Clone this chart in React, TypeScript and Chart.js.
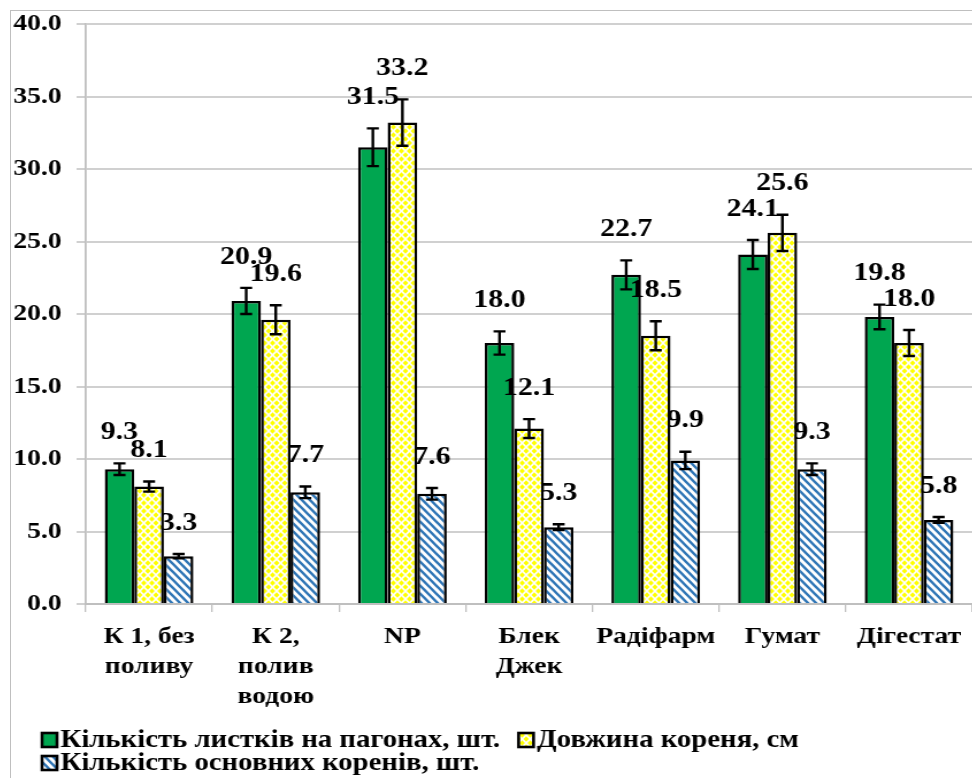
import React, { useEffect, useRef } from "react";
import { Chart, registerables } from "chart.js";
Chart.register(...registerables);

const categories: (string | string[])[] = [
  ["К 1, без", "поливу"],
  ["К 2,", "полив", "водою"],
  "NP",
  ["Блек", "Джек"],
  "Радіфарм",
  "Гумат",
  "Дігестат",
];
const seriesNames = [
  "Кількість листків на пагонах, шт.",
  "Довжина кореня, см",
  "Кількість основних коренів, шт.",
];
const leavesCount = [9.3, 20.9, 31.5, 18.0, 22.7, 24.1, 19.8];
const rootLength = [8.1, 19.6, 33.2, 12.1, 18.5, 25.6, 18.0];
const mainRoots = [3.3, 7.7, 7.6, 5.3, 9.9, 9.3, 5.8];
const leavesErr = [0.4, 0.9, 1.3, 0.8, 1.0, 1.0, 0.85];
const rootLengthErr = [0.35, 1.0, 1.6, 0.65, 1.0, 1.25, 0.9];
const mainRootsErr = [0.15, 0.4, 0.4, 0.2, 0.6, 0.4, 0.2];
const yMin = 0;
const yMax = 40;
const yStep = 5;

const FONT = "'Liberation Serif', 'Times New Roman', serif";
const STRETCH = 1.15; // the reference text/graphics are horizontally widened
const CANVAS_W = 836;
const CANVAS_H = 767;

function makeDiamonds(): CanvasPattern | string {
  const c = document.createElement("canvas");
  c.width = 7;
  c.height = 8;
  const g = c.getContext("2d");
  if (!g) return "#ffff00";
  g.fillStyle = "#ffffff";
  g.fillRect(0, 0, 7, 8);
  g.fillStyle = "#ffff00";
  const dia = (cx: number, cy: number, rx: number, ry: number) => {
    g.beginPath();
    g.moveTo(cx, cy - ry);
    g.lineTo(cx + rx, cy);
    g.lineTo(cx, cy + ry);
    g.lineTo(cx - rx, cy);
    g.closePath();
    g.fill();
  };
  const rx = 2.4;
  const ry = 2.8;
  dia(3.5, 4, rx, ry);
  dia(0, 0, rx, ry);
  dia(7, 0, rx, ry);
  dia(0, 8, rx, ry);
  dia(7, 8, rx, ry);
  const p = g.createPattern(c, "repeat");
  return p || "#ffff00";
}

function makeStripes(): CanvasPattern | string {
  const c = document.createElement("canvas");
  c.width = 7;
  c.height = 8;
  const g = c.getContext("2d");
  if (!g) return "#2e75b6";
  g.fillStyle = "#ffffff";
  g.fillRect(0, 0, 7, 8);
  g.strokeStyle = "#2e75b6";
  g.lineWidth = 2.4;
  g.beginPath();
  g.moveTo(-3.5, -4);
  g.lineTo(10.5, 12);
  g.moveTo(-3.5, 4);
  g.lineTo(3.5, 12);
  g.moveTo(3.5, -4);
  g.lineTo(10.5, 4);
  g.stroke();
  const p = g.createPattern(c, "repeat");
  return p || "#2e75b6";
}

export default function App() {
  const ref = useRef<HTMLCanvasElement | null>(null);

  useEffect(() => {
    if (!ref.current) return;
    const fills = ["#00a650", makeDiamonds(), makeStripes()];
    const values = [leavesCount, rootLength, mainRoots];
    const errors = [leavesErr, rootLengthErr, mainRootsErr];

    const errorBars = {
      id: "errorBarsAndLabels",
      afterDatasetsDraw(chart: any) {
        const ctx = chart.ctx;
        const y = chart.scales.y;
        ctx.save();
        chart.data.datasets.forEach((ds: any, di: number) => {
          const meta = chart.getDatasetMeta(di);
          meta.data.forEach((bar: any, i: number) => {
            const v = values[di][i];
            const e = errors[di][i];
            const top = y.getPixelForValue(v + e);
            const bot = y.getPixelForValue(v - e);
            ctx.strokeStyle = "#000";
            ctx.lineWidth = 2.4;
            ctx.beginPath();
            ctx.moveTo(bar.x, top);
            ctx.lineTo(bar.x, bot);
            ctx.moveTo(bar.x - 5.2, top);
            ctx.lineTo(bar.x + 5.2, top);
            ctx.moveTo(bar.x - 5.2, bot);
            ctx.lineTo(bar.x + 5.2, bot);
            ctx.stroke();
            ctx.fillStyle = "#000";
            ctx.font = `bold 26px ${FONT}`;
            ctx.textAlign = "center";
            ctx.textBaseline = "middle";
            ctx.fillText(v.toFixed(1), bar.x, top - 31);
          });
        });
        ctx.restore();
      },
    };

    const legendPlugin = {
      id: "customLegend",
      afterDraw(chart: any) {
        const ctx = chart.ctx;
        ctx.save();
        ctx.font = `bold 25px ${FONT}`;
        ctx.textBaseline = "middle";
        ctx.textAlign = "left";
        const rows = [
          { y: 729, items: [0, 1] },
          { y: 752, items: [2] },
        ];
        rows.forEach((row) => {
          let x = 27;
          row.items.forEach((idx) => {
            const bw = 13;
            const bh = 14;
            ctx.fillStyle = fills[idx];
            ctx.fillRect(x, row.y - bh / 2, bw, bh);
            ctx.strokeStyle = "#000";
            ctx.lineWidth = 2.6;
            ctx.strokeRect(x, row.y - bh / 2, bw, bh);
            ctx.fillStyle = "#000";
            ctx.fillText(seriesNames[idx], x + bw + 3, row.y + 1);
            x += bw + 3 + ctx.measureText(seriesNames[idx]).width + 16;
          });
        });
        ctx.restore();
      },
    };

    const chart = new Chart(ref.current, {
      type: "bar",
      data: {
        labels: categories,
        datasets: values.map((vals, i) => ({
          label: seriesNames[i],
          data: vals,
          backgroundColor: fills[i] as any,
          borderColor: "#000000",
          borderWidth: 2.5,
          categoryPercentage: 0.7,
          barPercentage: 1.0,
        })),
      },
      options: {
        animation: false,
        responsive: false,
        devicePixelRatio: 1,
        layout: { padding: { top: 13, right: 0, bottom: 62, left: 0 } },
        plugins: {
          legend: { display: false },
          tooltip: { enabled: false },
        },
        scales: {
          x: {
            offset: true,
            grid: {
              display: true,
              offset: true,
              drawOnChartArea: false,
              drawTicks: true,
              tickLength: 8,
              color: "#bfbfbf",
              lineWidth: 1.3,
            },
            border: { display: true, color: "#bfbfbf", width: 2 },
            ticks: {
              color: "#000",
              font: { family: FONT, size: 24, weight: "bold", lineHeight: 1.25 },
              padding: 10,
              maxRotation: 0,
              autoSkip: false,
            },
            afterFit: (s: any) => {
              s.height = 112;
              s.paddingLeft = 0;
              s.paddingRight = 0;
            },
          },
          y: {
            min: yMin,
            max: yMax,
            grid: {
              color: "#d0d0d0",
              lineWidth: 2,
              tickLength: 8,
            },
            border: { display: true, color: "#bfbfbf", width: 1.8 },
            ticks: {
              stepSize: yStep,
              color: "#000",
              font: { family: FONT, size: 24, weight: "bold" },
              padding: 13,
              callback: (v: any) => Number(v).toFixed(1),
            },
            afterFit: (s: any) => {
              s.width = 65;
              s.paddingTop = 0;
              s.paddingBottom = 0;
            },
          },
        },
      },
      plugins: [errorBars, legendPlugin],
    });
    return () => chart.destroy();
  }, []);

  return (
    <div
      style={{
        position: "fixed",
        left: 10,
        top: 10,
        width: 975,
        height: 780,
        border: "1px solid #bfbfbf",
        background: "#fff",
        overflow: "hidden",
      }}
    >
      <div style={{ transform: `scaleX(${STRETCH})`, transformOrigin: "0 0", width: CANVAS_W }}>
        <canvas ref={ref} width={CANVAS_W} height={CANVAS_H} style={{ display: "block" }} />
      </div>
    </div>
  );
}
